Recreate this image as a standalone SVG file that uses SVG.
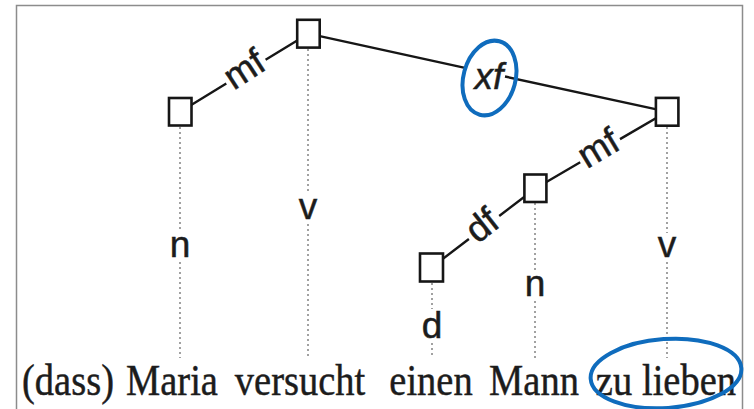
<svg xmlns="http://www.w3.org/2000/svg" width="754" height="409" viewBox="0 0 754 409">
<style>
.frame{fill:none;stroke:#8c8c8c;stroke-width:1.5}
.edge{stroke:#161616;stroke-width:2.4;fill:none}
.dot{stroke:#7a7a7a;stroke-width:1.4;stroke-dasharray:2 3;fill:none}
.node{fill:#fff;stroke:#161616;stroke-width:2.6}
.lab{font-family:"Liberation Sans",Arial,sans-serif;font-size:37px;fill:#1c1c1c;stroke:#1c1c1c;stroke-width:0.5;text-anchor:middle}
.word{font-family:"Liberation Serif","Times New Roman",serif;font-size:38.5px;fill:#1c1c1c;stroke:#1c1c1c;stroke-width:0.4;text-anchor:middle}
.hl{fill:none;stroke:#0f6cbd;stroke-width:4}
</style>
<rect width="754" height="409" fill="#fff"/>
<path class="frame" d="M16.5,409 V5.5 H742.5 V409"/>

<g id="projections">
<path class="dot" d="M180,127 V229 M180,262 V358"/>
<path class="dot" d="M308,49 V193 M308,224 V358"/>
<path class="dot" d="M667,127 V233 M667,262 V358"/>
<path class="dot" d="M535,203 V270 M535,301 V358"/>
<path class="dot" d="M432,283 V309 M432,343 V358"/>
</g>

<g id="connectors">
<path class="edge" d="M180.2,111.7 L226.3,83.6 M265.6,59.7 L308.3,33.7"/>
<path class="edge" d="M308.3,33.7 L465,67.8 M505,76.5 L667,111.7"/>
<path class="edge" d="M535.3,188.5 L580.2,162.3 M620,139.1 L667,111.7"/>
<path class="edge" d="M431.5,267.5 L468.9,239 M499.2,216 L535.3,188.5"/>
<text class="lab" transform="translate(246,72) rotate(-33)" y="9">mf</text>
<text class="lab" font-style="italic" x="489" y="89">xf</text>
<text class="lab" transform="translate(600,151) rotate(-31)" y="9">mf</text>
<text class="lab" transform="translate(484,228) rotate(-38)" y="9">df</text>
</g>

<g id="node-maria">
<rect class="node" x="169" y="98" width="22.5" height="27.5"/>
<text class="lab" x="180" y="257">n</text>
</g>
<g id="node-versucht">
<rect class="node" x="297.2" y="19.8" width="22.5" height="27.8"/>
<text class="lab" x="308" y="219">v</text>
</g>
<g id="node-lieben">
<rect class="node" x="655.9" y="97.9" width="22.5" height="27.8"/>
<text class="lab" x="667" y="257">v</text>
</g>
<g id="node-mann">
<rect class="node" x="524.4" y="174.5" width="22" height="27.5"/>
<text class="lab" x="535" y="296">n</text>
</g>
<g id="node-einen">
<rect class="node" x="420" y="253.5" width="23" height="28"/>
<text class="lab" x="432" y="338">d</text>
</g>

<g id="sentence" transform="translate(0,395) scale(1,1.15)">
<text class="word" x="68" y="0">(dass)</text>
<text class="word" x="172" y="0">Maria</text>
<text class="word" x="300" y="0">versucht</text>
<text class="word" x="431" y="0">einen</text>
<text class="word" x="534" y="0">Mann</text>
<text class="word" x="614" y="0">zu</text>
<text class="word" x="689" y="0">lieben</text>
</g>

<g id="highlights">
<ellipse class="hl" cx="489.5" cy="78" rx="26" ry="38" transform="rotate(15 489.5 78)"/>
<ellipse class="hl" cx="666" cy="373.5" rx="75.5" ry="34.5" transform="rotate(-4 666 373.5)"/>
</g>
</svg>
